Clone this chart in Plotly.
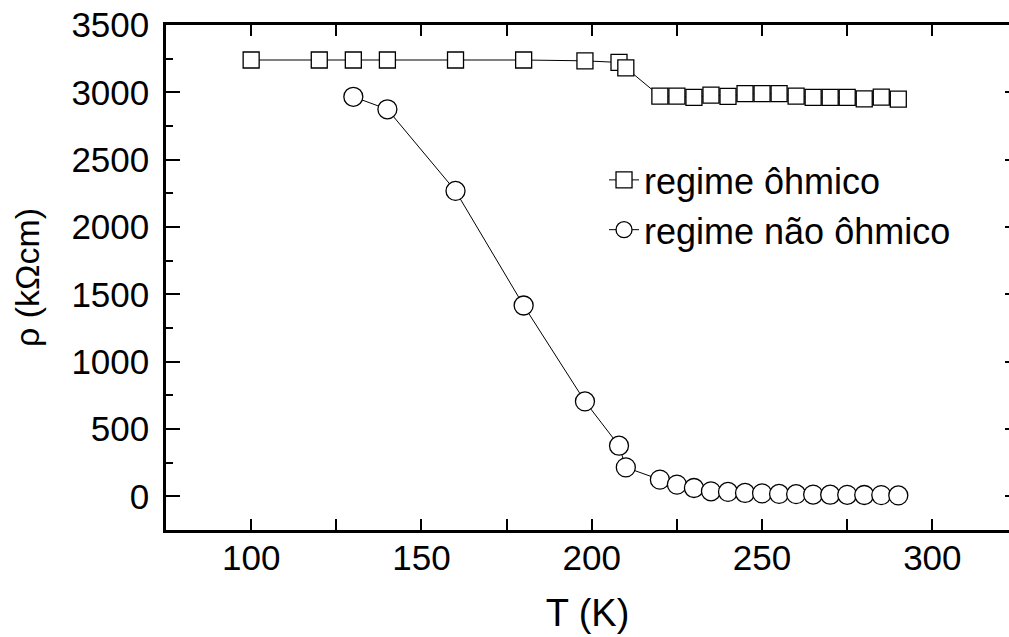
import plotly.graph_objects as go

# Data
t_ohm = [100, 120, 130, 140, 160, 180, 198, 208, 210, 220, 225, 230, 235, 240,
         245, 250, 255, 260, 265, 270, 275, 280, 285, 290]
rho_ohm = [3240, 3240, 3240, 3240, 3240, 3240, 3234, 3222, 3182, 2972, 2972, 2962,
           2980, 2970, 2990, 2990, 2990, 2972, 2962, 2962, 2962, 2952, 2965, 2950]

t_nohm = [130, 140, 160, 180, 198, 208, 210, 220, 225, 230, 235, 240, 245, 250,
          255, 260, 265, 270, 275, 280, 285, 290]
rho_nohm = [2967, 2874, 2268, 1417, 705, 376, 215, 124, 87, 62, 37, 33, 25, 22,
            18, 16, 13, 12, 11, 10, 9, 7]

x_ticks = [100, 150, 200, 250, 300]
y_ticks = [0, 500, 1000, 1500, 2000, 2500, 3000, 3500]

FONT = "Arial, Liberation Sans, sans-serif"

fig = go.Figure()
fig.add_trace(go.Scatter(
    x=t_ohm, y=rho_ohm, mode="lines+markers", name="regime ôhmico",
    line=dict(color="black", width=1),
    marker=dict(symbol="square", size=16, color="white",
                line=dict(color="black", width=1.3)),
))
fig.add_trace(go.Scatter(
    x=t_nohm, y=rho_nohm, mode="lines+markers", name="regime não ôhmico",
    line=dict(color="black", width=1),
    marker=dict(symbol="circle", size=19, color="white",
                line=dict(color="black", width=1.3)),
))
# helper trace for the right-hand tick axis
fig.add_trace(go.Scatter(x=[None], y=[None], yaxis="y2", showlegend=False,
                         hoverinfo="skip"))

fig.update_layout(
    width=1009, height=637,
    margin=dict(l=166, r=0, t=25, b=107),
    paper_bgcolor="white", plot_bgcolor="white",
    font=dict(family=FONT, size=35, color="black"),
    showlegend=True,
    legend=dict(x=0.5196, y=0.6436, xanchor="left", yanchor="middle",
                bgcolor="rgba(0,0,0,0)", font=dict(size=36),
                itemwidth=30, tracegroupgap=0),
    xaxis=dict(
        range=[75, 322.5], tickvals=x_ticks, ticks="inside", ticklen=11,
        tickwidth=2, tickcolor="black", showline=True, linewidth=2.5,
        linecolor="black", mirror="allticks", showgrid=False, zeroline=False,
        minor=dict(dtick=25, tick0=0, ticks="inside", ticklen=6, tickwidth=2,
                   tickcolor="black", showgrid=False),
        tickfont=dict(size=35), ticklabelstandoff=-5,
        title=dict(text="T (K)", font=dict(size=38), standoff=24),
    ),
    yaxis=dict(
        range=[-250, 3500], tickvals=y_ticks, ticks="inside", ticklen=14,
        tickwidth=2, tickcolor="black", showline=True, linewidth=2.5,
        linecolor="black", showgrid=False, zeroline=False,
        minor=dict(dtick=250, tick0=0, ticks="inside", ticklen=7, tickwidth=2,
                   tickcolor="black", showgrid=False),
        tickfont=dict(size=35), ticklabelstandoff=7,
        title=dict(text="ρ (kΩcm)", font=dict(size=34), standoff=22),
    ),
    yaxis2=dict(
        range=[-250, 3500], tickvals=y_ticks, overlaying="y", side="right",
        ticks="inside", ticklen=4, tickwidth=2, tickcolor="black",
        showline=False, showgrid=False, zeroline=False, showticklabels=False,
    ),
)

fig.write_html("out.html", config={"displayModeBar": False},
               post_script="document.body.style.margin='0px';document.body.style.overflow='hidden';")
